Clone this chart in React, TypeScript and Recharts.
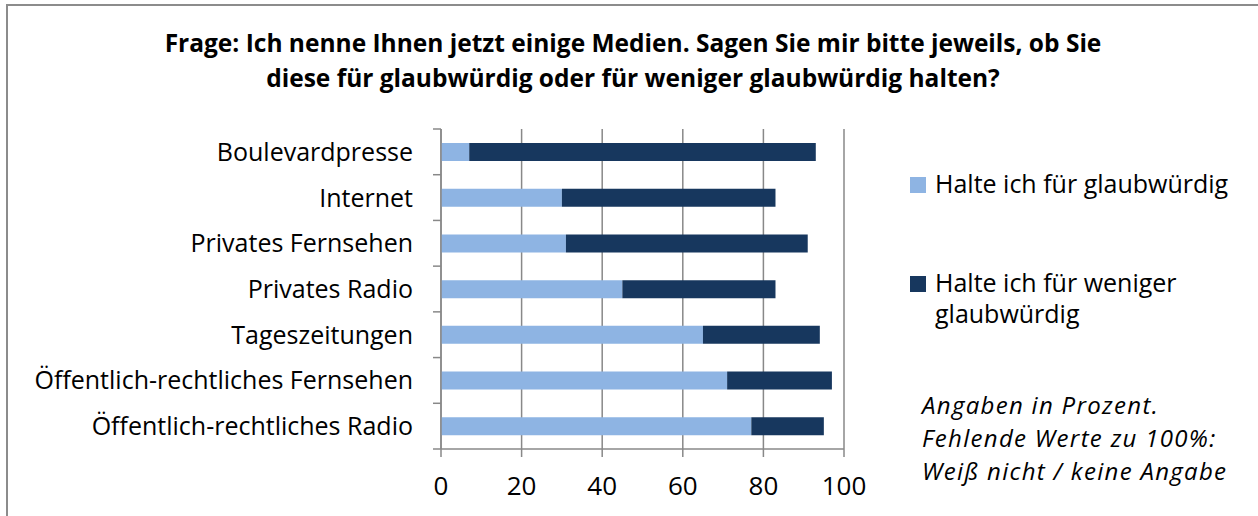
import React from 'react';
import { BarChart, Bar, XAxis, YAxis, CartesianGrid, Legend } from 'recharts';

const categories = [
  'Boulevardpresse',
  'Internet',
  'Privates Fernsehen',
  'Privates Radio',
  'Tageszeitungen',
  'Öffentlich-rechtliches Fernsehen',
  'Öffentlich-rechtliches Radio',
];
const glaubwuerdig = [7, 30, 31, 45, 65, 71, 77];
const wenigerGlaubwuerdig = [86, 53, 60, 38, 29, 26, 18];
const xTicks = [0, 20, 40, 60, 80, 100];
const seriesNames = ['Halte ich für glaubwürdig', 'Halte ich für weniger glaubwürdig'];
const titleLines = [
  'Frage: Ich nenne Ihnen jetzt einige Medien. Sagen Sie mir bitte jeweils, ob Sie',
  'diese für glaubwürdig oder für weniger glaubwürdig halten?',
];
const noteLines = ['Angaben in Prozent.', 'Fehlende Werte zu 100%:', 'Weiß nicht / keine Angabe'];

const LIGHT = '#8EB4E3';
const DARK = '#17375E';
const GRID = '#888888';
const FONT = '"Open Sans", Lato, sans-serif';

const data = categories.map((name, i) => ({
  name,
  glaub: glaubwuerdig[i],
  weniger: wenigerGlaubwuerdig[i],
}));

const TICK_SIZE = 8;
const TICK_MARGIN = 20;

const YTick = (props: any) => {
  const { x, y, payload, index } = props;
  const half = payload && payload.offset ? payload.offset : 0;
  const axisX = x + TICK_SIZE + TICK_MARGIN;
  const last = index === categories.length - 1;
  return (
    <g>
      <line x1={axisX - TICK_SIZE} x2={axisX} y1={y - half} y2={y - half} stroke={GRID} strokeWidth={1.5} />
      {last && (
        <line x1={axisX - TICK_SIZE} x2={axisX} y1={y + half} y2={y + half} stroke={GRID} strokeWidth={1.5} />
      )}
      <text x={x} y={y} dy="0.36em" textAnchor="end" fill="#000" fontSize={25} fontFamily={FONT}>
        {payload.value}
      </text>
    </g>
  );
};

const LegendContent = (props: any) => {
  const { payload } = props;
  return (
    <div style={{ fontFamily: FONT, fontSize: 25, color: '#000' }}>
      {(payload || []).map((p: any, i: number) => (
        <div
          key={i}
          style={{ display: 'flex', alignItems: 'flex-start', marginBottom: i === 0 ? 68 : 0, lineHeight: '31px' }}
        >
          <div
            style={{ width: 16, height: 16, background: p.color, marginTop: 9, marginRight: 9, flex: 'none' }}
          />
          <div style={{ width: 310 }}>{p.value}</div>
        </div>
      ))}
    </div>
  );
};

export default function App() {
  return (
    <div
      style={{
        position: 'absolute',
        left: 0,
        top: 0,
        width: 1258,
        height: 516,
        overflow: 'hidden',
        background: '#fff',
        fontFamily: FONT,
      }}
    >
      <div
        style={{
          position: 'absolute',
          left: 6,
          top: 4,
          width: 1400,
          height: 700,
          border: '2px solid #8c8c8c',
        }}
      />
      <div
        style={{
          position: 'absolute',
          left: 8,
          top: 25,
          width: 1250,
          textAlign: 'center',
          fontWeight: 700,
          fontSize: 24.5,
          lineHeight: '35px',
          color: '#000',
          whiteSpace: 'nowrap',
        }}
      >
        {titleLines.map((t, i) => (
          <div key={i}>{t}</div>
        ))}
      </div>
      <BarChart
        width={1258}
        height={516}
        data={data}
        layout="vertical"
        margin={{ top: 129, right: 414, bottom: 27, left: 41 }}
        barSize={18}
        style={{ position: 'absolute', left: 0, top: 0 }}
      >
        <CartesianGrid horizontal={false} vertical={true} stroke={GRID} strokeWidth={1.5} />
        <XAxis
          type="number"
          domain={[0, 100]}
          ticks={xTicks}
          interval={0}
          height={40}
          tickSize={8}
          tickMargin={20}
          stroke={GRID}
          strokeWidth={1.5}
          tick={{ fill: '#000', fontSize: 26, fontFamily: FONT }}
        />
        <YAxis
          type="category"
          dataKey="name"
          width={400}
          tickLine={false}
          tickSize={TICK_SIZE}
          tickMargin={TICK_MARGIN}
          stroke={GRID}
          strokeWidth={1.5}
          interval={0}
          tick={<YTick />}
        />
        <Legend
          layout="vertical"
          verticalAlign="middle"
          align="center"
          content={<LegendContent />}
          wrapperStyle={{ position: 'absolute', left: 910, top: 168, width: 345 }}
        />
        <Bar dataKey="glaub" name={seriesNames[0]} stackId="s" fill={LIGHT} isAnimationActive={false} />
        <Bar dataKey="weniger" name={seriesNames[1]} stackId="s" fill={DARK} isAnimationActive={false} />
      </BarChart>
      <div
        style={{
          position: 'absolute',
          left: 922,
          top: 388,
          fontStyle: 'italic',
          fontSize: 24,
          lineHeight: '33px',
          letterSpacing: '1.3px',
          color: '#000',
          whiteSpace: 'nowrap',
        }}
      >
        {noteLines.map((t, i) => (
          <div key={i}>{t}</div>
        ))}
      </div>
    </div>
  );
}
